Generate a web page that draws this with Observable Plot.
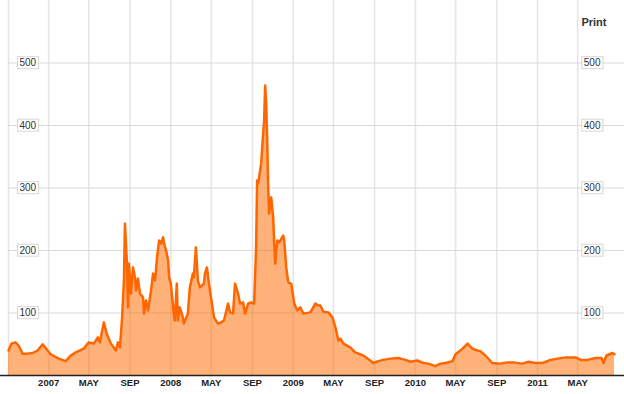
<!DOCTYPE html>
<html><head><meta charset="utf-8">
<script src="https://cdn.jsdelivr.net/npm/d3@7"></script>
<script src="https://cdn.jsdelivr.net/npm/@observablehq/plot@0.6"></script>
<style>
body{margin:0;background:#fff;}
#chart{position:relative;width:624px;height:394px;}
</style></head><body><div id="chart"></div>
<script>
const dates = ["2006-09-03","2006-09-12","2006-09-24","2006-10-03","2006-10-15","2006-10-30","2006-11-14","2006-11-29","2006-12-14","2006-12-23",
"2007-01-07","2007-01-31","2007-02-21","2007-03-08","2007-03-23","2007-04-16","2007-05-01","2007-05-16","2007-05-28","2007-06-03","2007-06-15","2007-06-24","2007-07-06","2007-07-21","2007-07-27","2007-08-02","2007-08-08","2007-08-14","2007-08-17","2007-08-23","2007-08-26","2007-08-29","2007-09-04","2007-09-10","2007-09-16","2007-09-19","2007-09-25","2007-10-01","2007-10-10","2007-10-13","2007-10-19","2007-10-25","2007-11-03","2007-11-09","2007-11-15","2007-11-21","2007-11-27","2007-12-03","2007-12-09","2007-12-12","2007-12-18","2007-12-24","2007-12-27",
"2008-01-01","2008-01-10","2008-01-13","2008-01-19","2008-01-22","2008-01-28","2008-02-06","2008-02-09","2008-02-21","2008-02-27","2008-03-07","2008-03-10","2008-03-16","2008-03-22","2008-03-28","2008-04-09","2008-04-12","2008-04-18","2008-04-24","2008-05-03","2008-05-09","2008-05-21","2008-05-30","2008-06-08","2008-06-20","2008-06-26","2008-07-05","2008-07-11","2008-07-20","2008-07-26","2008-08-04","2008-08-10","2008-08-19","2008-08-28","2008-09-06","2008-09-12","2008-09-15","2008-09-18","2008-09-21","2008-09-27","2008-10-03","2008-10-06","2008-10-09","2008-10-12","2008-10-15","2008-10-18","2008-10-21","2008-10-27","2008-11-02","2008-11-05","2008-11-08","2008-11-14","2008-11-20","2008-12-02","2008-12-05","2008-12-11","2008-12-17","2008-12-26","2008-12-29",
"2009-01-04","2009-01-13","2009-01-22","2009-01-31","2009-02-21","2009-03-08","2009-03-17","2009-03-23","2009-04-01","2009-04-16","2009-04-28","2009-05-07","2009-05-16","2009-05-22","2009-05-31","2009-06-20","2009-07-05","2009-07-29","2009-08-19","2009-08-28","2009-09-12","2009-09-27","2009-10-18","2009-11-11","2009-12-02","2009-12-17",
"2010-01-07","2010-01-25","2010-02-09","2010-03-02","2010-03-17","2010-04-01","2010-04-22","2010-05-01","2010-05-22","2010-06-06","2010-06-20","2010-07-05","2010-07-14","2010-07-29","2010-08-19","2010-09-12","2010-10-03","2010-10-21","2010-11-17","2010-12-05","2010-12-26",
"2011-01-16","2011-02-09","2011-03-02","2011-03-26","2011-04-25","2011-05-10","2011-05-31","2011-06-23","2011-07-11","2011-07-17","2011-07-26","2011-08-13","2011-08-19"];
const values = [40,51,53,48,35,35,36,40,50,44,
34,27,23,32,37,43,53,51,61,53,85,66,51,40,53,45,88,152,243,179,109,179,131,173,157,136,155,131,125,99,120,104,136,163,152,189,216,211,221,211,200,184,157,
147,99,88,147,88,109,93,83,99,141,163,157,205,152,141,147,163,173,147,115,93,83,85,88,115,101,99,147,131,115,117,99,115,117,115,205,312,307,317,339,387,408,464,435,381,301,259,285,253,211,179,216,213,224,216,173,149,147,136,
115,104,109,99,101,115,112,112,102,101,93,77,56,59,51,45,37,32,24,20,23,25,27,28,25,22,
24,20,19,15,19,20,23,34,43,51,43,40,39,32,20,19,21,21,19,22,20,
20,25,27,29,29,25,25,28,28,20,32,36,34];
const yTicks = [100,200,300,400,500];
const xTickDates = ["2007-01-01","2007-05-01","2007-09-01","2008-01-01","2008-05-01","2008-09-01","2009-01-01","2009-05-01","2009-09-01","2010-01-01","2010-05-01","2010-09-01","2011-01-01","2011-05-01"];
const xTickLabels = ["2007","MAY","SEP","2008","MAY","SEP","2009","MAY","SEP","2010","MAY","SEP","2011","MAY"];
const xDomain = ["2006-09-03","2011-08-19"];
const yDomain = [0, 600];
const printLabel = "Print";

const parse = s => new Date(s + "T00:00:00Z");
const data = dates.map((d, i) => ({date: parse(d), value: values[i]}));
const gridDates = [xDomain[0], ...xTickDates].map(parse);

const font = "'Liberation Sans', Arial, Helvetica, sans-serif";
const plot = Plot.plot({
  width: 624, height: 394,
  marginLeft: 8, marginRight: 10, marginTop: 0, marginBottom: 19,
  style: {fontFamily: font, fontSize: "10px", background: "#fff", overflow: "visible"},
  x: {type: "utc", domain: xDomain.map(parse), axis: null},
  y: {domain: yDomain, axis: null},
  marks: [
    Plot.ruleX(gridDates, {stroke: "#e6e6e6", strokeWidth: 1.6}),
    Plot.ruleY(yTicks, {stroke: "#d9d9d9", strokeWidth: 1, insetRight: -10}),
    Plot.areaY(data, {x: "date", y: "value", fill: "#ff6a00", fillOpacity: 0.52}),
    Plot.lineY(data, {x: "date", y: "value", stroke: "#ff6600", strokeWidth: 2.5, strokeLinejoin: "round"}),
    Plot.ruleY([0], {stroke: "#222", strokeWidth: 1.5, insetLeft: -8, insetRight: -10}),
    Plot.text(xTickDates.map(parse), {x: d => d, text: (d, i) => xTickLabels[i], frameAnchor: "bottom", dy: 7, lineAnchor: "middle", fontSize: 9.5, fontWeight: "bold", fill: "#222"}),
    Plot.text(yTicks, {y: d => d, text: d => String(d), frameAnchor: "left", textAnchor: "start", dx: 11, fill: "#333", fontSize: 10}),
    Plot.text(yTicks, {y: d => d, text: d => String(d), frameAnchor: "right", textAnchor: "end", dx: -14, fill: "#333", fontSize: 10}),
    Plot.text([printLabel], {text: d => d, frameAnchor: "top-right", textAnchor: "end", dx: -8, dy: 22, lineAnchor: "middle", fontSize: 11, fontWeight: "bold", fill: "#333"})
  ]
});
document.getElementById("chart").appendChild(plot);

// boxes behind the y tick labels, sized from the rendered text
const ns = "http://www.w3.org/2000/svg";
plot.querySelectorAll("text").forEach(t => {
  if (!yTicks.map(String).includes(t.textContent)) return;
  const b = t.getBBox();
  const r = document.createElementNS(ns, "rect");
  r.setAttribute("x", b.x - 2);
  r.setAttribute("y", b.y - 0.5);
  r.setAttribute("width", b.width + 4);
  r.setAttribute("height", b.height + 1);
  r.setAttribute("fill", "#fff");
  r.setAttribute("stroke", "#d6d6d6");
  r.setAttribute("stroke-width", 1);
  if (t.getAttribute("transform")) r.setAttribute("transform", t.getAttribute("transform"));
  t.parentNode.insertBefore(r, t);
});
</script>
</body></html>
